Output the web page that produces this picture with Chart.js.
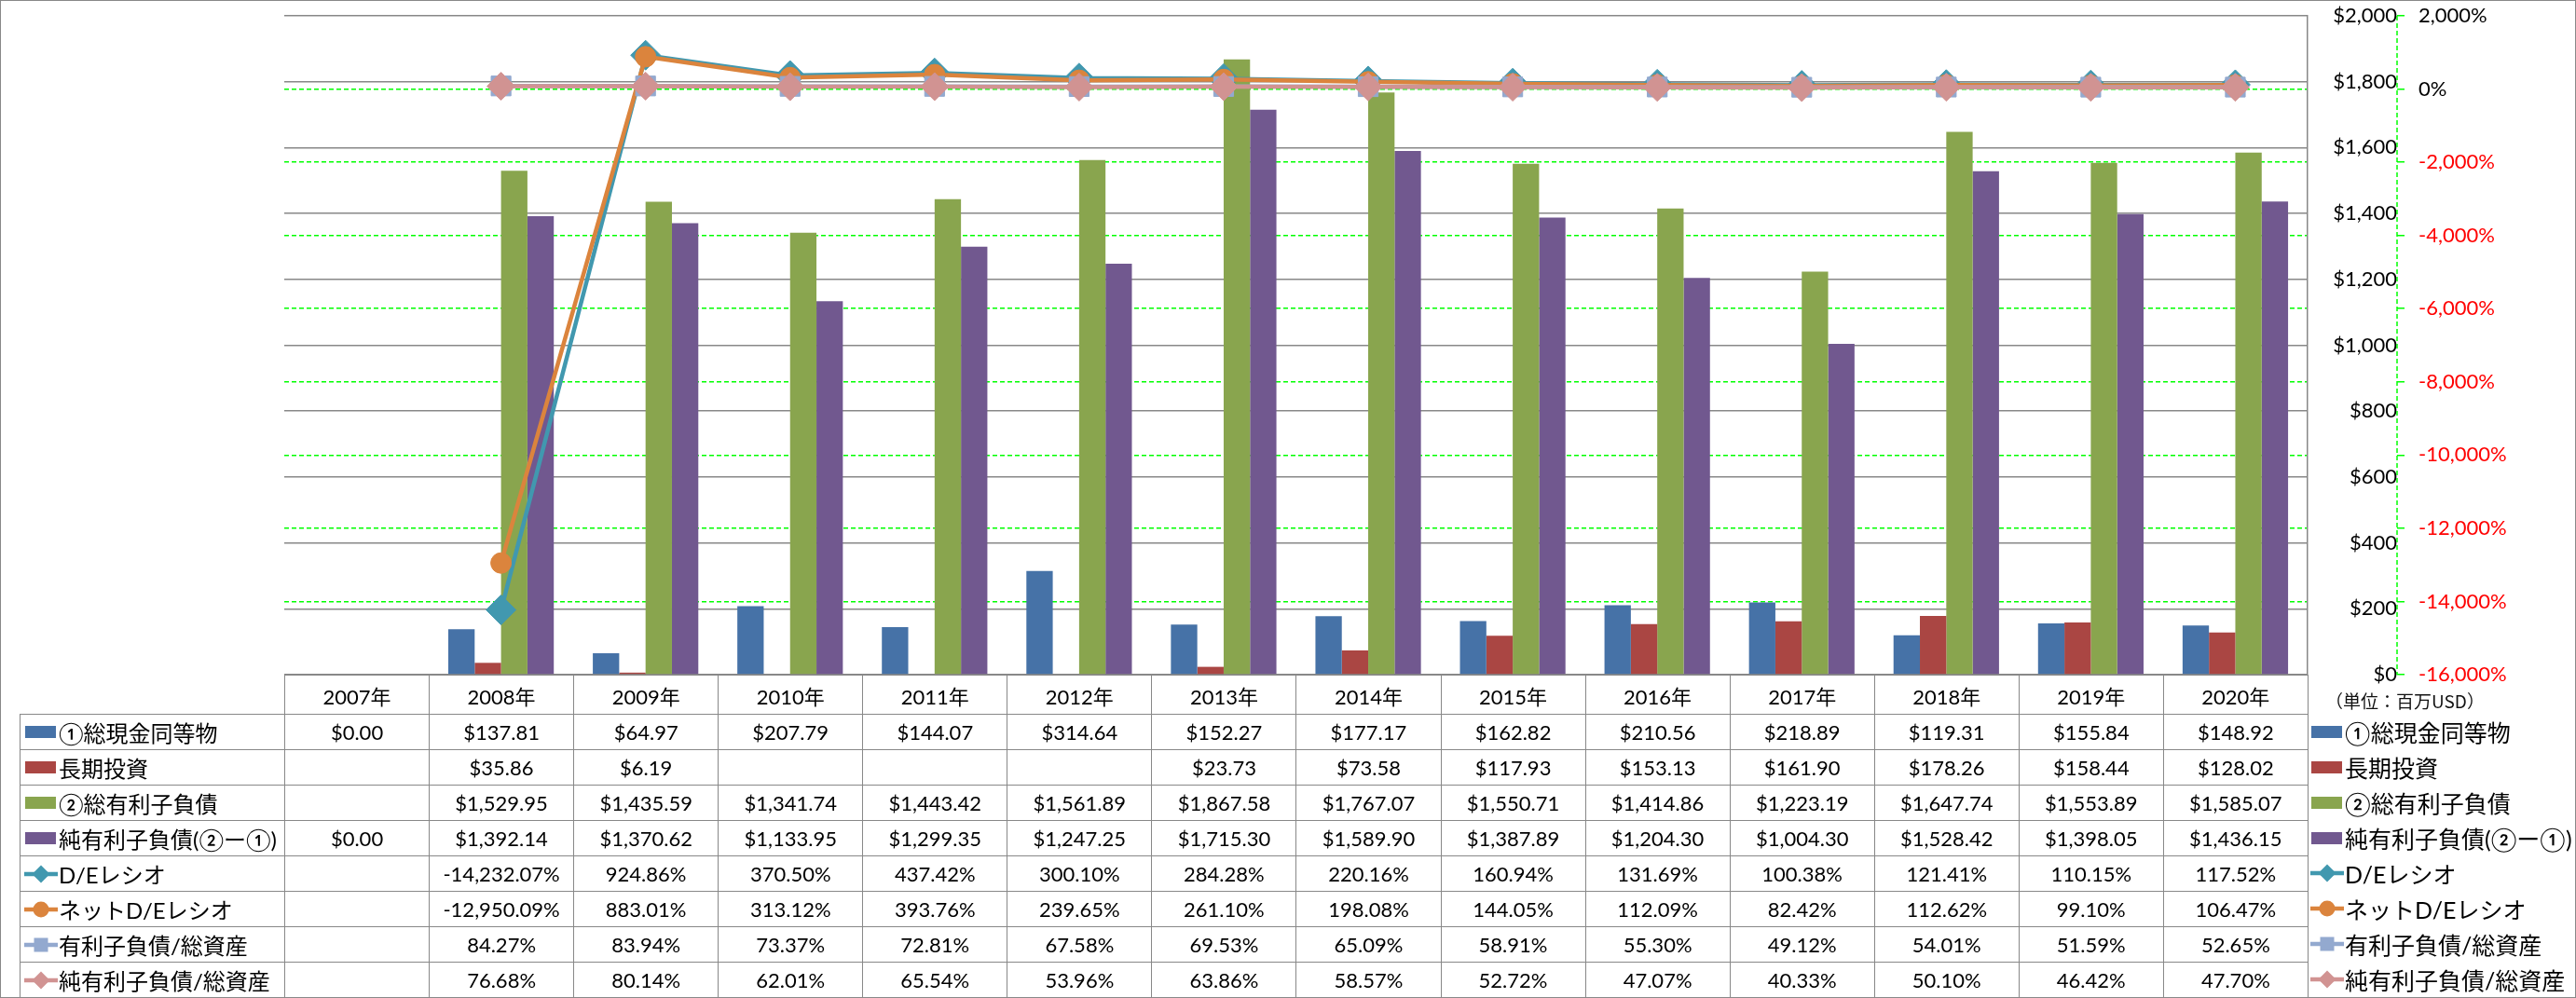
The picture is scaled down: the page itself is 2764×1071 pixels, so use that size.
<!DOCTYPE html>
<html lang="ja">
<head>
<meta charset="utf-8">
<title>有利子負債の推移</title>
<script src="https://cdn.jsdelivr.net/npm/chart.js@4.4.1/dist/chart.umd.min.js"></script>
<style>
    html, body { margin: 0; padding: 0; background: #fff; }
    #wrap {
        position: relative; width: 2764px; height: 1071px; overflow: hidden;
        font-family: Lato, "Noto Sans CJK JP", sans-serif; color: #000;
    }
    #frame {
        position: absolute; left: 0; top: 0; width: 2762px; height: 1069px;
        border: 1px solid #888; pointer-events: none;
    }
    #chart { position: absolute; left: 0; top: 0; }
    #dataTable {
        position: absolute; left: 21px; top: 724px;
        border-collapse: collapse; table-layout: fixed;
    }
    #dataTable td {
        border: 1.5px solid #888; padding: 0; text-align: center;
        font-size: 22px; white-space: nowrap; overflow: hidden;
    }
    #dataTable tr { height: 38px; }
    #dataTable tr.head { height: 42px; }
    #dataTable td.corner { border-top: none; border-left: none; }
    #dataTable td.label { text-align: left; font-size: 24px; padding-left: 4px; }
    .key { display: inline-block; vertical-align: middle; }
    .swatch { width: 33px; height: 13px; margin: 0 3px 0 1px; }
    .lineKey { margin-right: 1px; }
    .keyText { vertical-align: middle; }
    #unit {
        position: absolute; left: 2495px; top: 738px; font-size: 19px;
        font-family: "Noto Sans CJK JP", sans-serif; color: #111;
    }
    #legend { position: absolute; left: 2479px; top: 766px; }
    #legend div { height: 38px; display: flex; align-items: center; font-size: 25px; white-space: nowrap; }
</style>
</head>
<body>
<div id="wrap">
    <canvas id="chart" width="2764" height="1071"></canvas>
    <table id="dataTable"></table>
    <div id="unit">（単位：百万USD）</div>
    <div id="legend"></div>
    <div id="frame"></div>
</div>
<script>
const years = ['2007年', '2008年', '2009年', '2010年', '2011年', '2012年', '2013年',
               '2014年', '2015年', '2016年', '2017年', '2018年', '2019年', '2020年'];

const cashEquivalents = [0.00, 137.81, 64.97, 207.79, 144.07, 314.64, 152.27, 177.17, 162.82, 210.56, 218.89, 119.31, 155.84, 148.92];
const longTermInvestments = [null, 35.86, 6.19, null, null, null, 23.73, 73.58, 117.93, 153.13, 161.90, 178.26, 158.44, 128.02];
const totalDebt = [null, 1529.95, 1435.59, 1341.74, 1443.42, 1561.89, 1867.58, 1767.07, 1550.71, 1414.86, 1223.19, 1647.74, 1553.89, 1585.07];
const netDebt = [0.00, 1392.14, 1370.62, 1133.95, 1299.35, 1247.25, 1715.30, 1589.90, 1387.89, 1204.30, 1004.30, 1528.42, 1398.05, 1436.15];

const deRatio = [null, -14232.07, 924.86, 370.50, 437.42, 300.10, 284.28, 220.16, 160.94, 131.69, 100.38, 121.41, 110.15, 117.52];
const netDeRatio = [null, -12950.09, 883.01, 313.12, 393.76, 239.65, 261.10, 198.08, 144.05, 112.09, 82.42, 112.62, 99.10, 106.47];
const debtToAssets = [null, 84.27, 83.94, 73.37, 72.81, 67.58, 69.53, 65.09, 58.91, 55.30, 49.12, 54.01, 51.59, 52.65];
const netDebtToAssets = [null, 76.68, 80.14, 62.01, 65.54, 53.96, 63.86, 58.57, 52.72, 47.07, 40.33, 50.10, 46.42, 47.70];

// axis ranges (left: USD, right: percent)
const usdAxis = { min: 0, max: 2000, step: 200 };
const pctAxis = { min: -16000, max: 2000, step: 2000 };

const GRID = '#888888';
const GREEN = '#00FF00';

const series = [
    { label: '①総現金同等物', data: cashEquivalents, color: '#4672A7', kind: 'bar', unit: '$' },
    { label: '長期投資', data: longTermInvestments, color: '#AA4643', kind: 'bar', unit: '$' },
    { label: '②総有利子負債', data: totalDebt, color: '#89A54E', kind: 'bar', unit: '$' },
    { label: '純有利子負債(②ー①)', data: netDebt, color: '#71588F', kind: 'bar', unit: '$' },
    { label: 'D/Eレシオ', data: deRatio, color: '#4198AF', kind: 'line', marker: 'rectRot', radius: 16, order: 4, unit: '%' },
    { label: 'ネットD/Eレシオ', data: netDeRatio, color: '#DB843D', kind: 'line', marker: 'circle', radius: 11, order: 3, unit: '%' },
    { label: '有利子負債/総資産', data: debtToAssets, color: '#93A9CF', kind: 'line', marker: 'rect', radius: 15, order: 2, unit: '%' },
    { label: '純有利子負債/総資産', data: netDebtToAssets, color: '#D19392', kind: 'line', marker: 'rectRot', radius: 15, order: 1, unit: '%' }
];

const FONT = 'Lato, "Noto Sans CJK JP", sans-serif';
Chart.defaults.font.family = FONT;
Chart.defaults.font.size = 22;
Chart.defaults.color = '#000';

// right-align the $ labels so they end just before the percent axis line
const measure = document.createElement('canvas').getContext('2d');
measure.font = '22px ' + FONT;
const usdWidest = measure.measureText('$2,000').width;

const datasets = series.map(s => {
    if (s.kind === 'bar') {
        return {
            type: 'bar',
            label: s.label,
            data: s.data,
            backgroundColor: s.color,
            borderWidth: 0,
            yAxisID: 'y',
            order: 5,
            categoryPercentage: 0.73,
            barPercentage: 1.0
        };
    }
    return {
        type: 'line',
        label: s.label,
        data: s.data,
        borderColor: s.color,
        backgroundColor: s.color,
        borderWidth: 4.5,
        pointStyle: s.marker,
        pointRadius: s.radius,
        pointBorderWidth: 1,
        pointBorderColor: s.color,
        pointBackgroundColor: s.color,
        tension: 0,
        spanGaps: false,
        yAxisID: 'y2',
        order: s.order
    };
});

const dashedAxisLine = {
    id: 'dashedAxisLine',
    afterDraw(chart) {
        const s = chart.scales.y2;
        const ctx = chart.ctx;
        ctx.save();
        ctx.setLineDash([5, 3]);
        ctx.strokeStyle = GREEN;
        ctx.lineWidth = 1.5;
        ctx.beginPath();
        ctx.moveTo(s.left, s.top);
        ctx.lineTo(s.left, s.bottom);
        ctx.stroke();
        ctx.restore();
    }
};

new Chart(document.getElementById('chart'), {
    type: 'bar',
    data: { labels: years, datasets: datasets },
    options: {
        responsive: false,
        animation: false,
        events: [],
        layout: { padding: { left: 305, top: 15, right: 42, bottom: 347 } },
        plugins: {
            legend: { display: false },
            tooltip: { enabled: false }
        },
        scales: {
            x: { type: 'category', display: false, offset: true },
            y: {
                position: 'right',
                weight: 0,
                min: usdAxis.min,
                max: usdAxis.max,
                ticks: {
                    stepSize: usdAxis.step,
                    crossAlign: 'far',
                    padding: 0,
                    callback: v => '$' + Number(v).toLocaleString('en-US')
                },
                grid: {
                    color: GRID, lineWidth: 1.5,
                    drawTicks: true, tickLength: 92 - usdWidest,
                    tickColor: 'rgba(0,0,0,0)'
                },
                border: { display: true, color: GRID, width: 1.5 },
                afterFit: scale => { scale.width = 96; }
            },
            y2: {
                position: 'right',
                weight: 1,
                min: pctAxis.min,
                max: pctAxis.max,
                ticks: {
                    stepSize: pctAxis.step,
                    padding: 0,
                    color: c => (c.tick && c.tick.value < 0) ? '#FF0000' : '#000000',
                    callback: v => Number(v).toLocaleString('en-US') + '%'
                },
                grid: {
                    color: c => (c.index === 0 || c.index === 9) ? 'rgba(0,0,0,0)' : GREEN,
                    lineWidth: 1.5,
                    drawTicks: true,
                    tickLength: 23,
                    tickColor: GREEN,
                    tickWidth: 1.5,
                    tickBorderDash: [8, 60]
                },
                border: { display: false, dash: [5, 3] },
                afterFit: scale => { scale.width = 150; }
            }
        }
    },
    plugins: [dashedAxisLine]
});

// legend keys for the table and the side legend
function keyHtml(s) {
    if (s.kind === 'bar') {
        return `<span class="key swatch" style="background:${s.color}"></span>`;
    }
    let mark = '';
    if (s.marker === 'circle') {
        mark = `<circle cx="18" cy="12" r="8.5" fill="${s.color}"/>`;
    } else if (s.marker === 'rect') {
        mark = `<rect x="10.5" y="4.5" width="15" height="15" fill="${s.color}"/>`;
    } else {
        mark = `<polygon points="18,2.5 27.5,12 18,21.5 8.5,12" fill="${s.color}"/>`;
    }
    return `<svg class="key lineKey" width="36" height="24" viewBox="0 0 36 24">` +
           `<line x1="0" y1="12" x2="36" y2="12" stroke="${s.color}" stroke-width="4.5"/>${mark}</svg>`;
}

function fmt(v, unit) {
    if (v === null || v === undefined) return '';
    const txt = Number(v).toLocaleString('en-US', { minimumFractionDigits: 2, maximumFractionDigits: 2 });
    return unit === '$' ? '$' + txt : txt + '%';
}

const table = document.getElementById('dataTable');
let html = '<colgroup><col style="width:284px">' +
    years.map(() => '<col style="width:155.07px">').join('') + '</colgroup>';
html += '<tr class="head"><td class="corner"></td>' + years.map(y => `<td>${y}</td>`).join('') + '</tr>';
series.forEach(s => {
    html += `<tr><td class="label">${keyHtml(s)}<span class="keyText">${s.label}</span></td>` +
        s.data.map(v => `<td>${fmt(v, s.unit)}</td>`).join('') + '</tr>';
});
table.innerHTML = html;

document.getElementById('legend').innerHTML = series
    .map(s => `<div>${keyHtml(s)}<span>${s.label}</span></div>`).join('');
</script>
</body>
</html>
